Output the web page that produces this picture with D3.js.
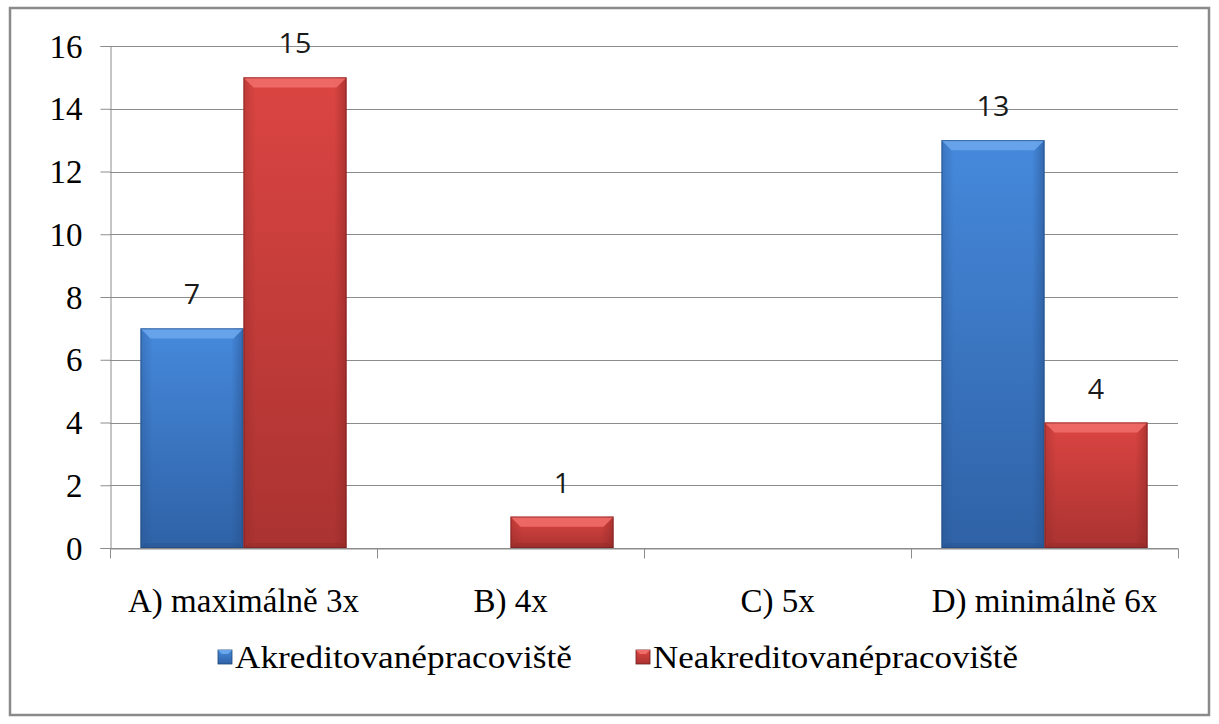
<!DOCTYPE html>
<html>
<head>
<meta charset="utf-8">
<script src="https://cdn.jsdelivr.net/npm/d3@7"></script>
<style>
  html, body { margin: 0; padding: 0; background: #fff; }
  svg { display: block; }
</style>
</head>
<body>
<svg id="chart" width="1219" height="724"></svg>
<script>
// Chart data
const categories = ["A) maximálně 3x", "B) 4x", "C) 5x", "D) minimálně 6x"];
const seriesNames = ["Akreditované pracoviště", "Neakreditované pracoviště"];
const accredited = [7, 0, 0, 13];
const nonAccredited = [15, 1, 0, 4];
const yTicks = [0, 2, 4, 6, 8, 10, 12, 14, 16];

const seriesValues = [accredited, nonAccredited];
const palette = [
  { top: "#4689dc", bottom: "#2f62a6", light: "#6aa6ec", dark: "#244f8a", edge: "#1f4676" },
  { top: "#db4542", bottom: "#aa3331", light: "#ef6d69", dark: "#8c2725", edge: "#6e1d1c" }
];
const SERIF = "Liberation Serif";
const SANS = "Open Sans";

// Widen glyphs horizontally by a factor, keeping the text anchor in place
function widen(sel, factor) {
  sel.each(function () {
    const len = this.getComputedTextLength();
    d3.select(this).attr("textLength", len * factor).attr("lengthAdjust", "spacingAndGlyphs");
  });
}

const svg = d3.select("#chart");
const W = 1219, H = 724;

// Outer frame
svg.append("rect")
  .attr("x", 10).attr("y", 8).attr("width", W - 20).attr("height", H - 17)
  .attr("fill", "#fff").attr("stroke", "#8a8a8a").attr("stroke-width", 2.5);

const plot = { left: 110, right: 1178, top: 46, bottom: 548 };

const x = d3.scaleBand().domain(categories).range([plot.left, plot.right]).paddingInner(0).paddingOuter(0);
const y = d3.scaleLinear().domain([0, 16]).range([plot.bottom, plot.top]);
const xs = d3.scaleBand().domain([0, 1]).range([0, x.bandwidth()]).paddingInner(0).paddingOuter(0.296);

const defs = svg.append("defs");
palette.forEach((p, i) => {
  const g = defs.append("linearGradient").attr("id", "grad" + i)
    .attr("x1", 0).attr("y1", 0).attr("x2", 0).attr("y2", 1);
  g.append("stop").attr("offset", "0%").attr("stop-color", p.top);
  g.append("stop").attr("offset", "100%").attr("stop-color", p.bottom);
  const s = defs.append("linearGradient").attr("id", "side" + i)
    .attr("x1", 0).attr("y1", 0).attr("x2", 1).attr("y2", 0);
  s.append("stop").attr("offset", "0%").attr("stop-color", p.dark).attr("stop-opacity", 0.35);
  s.append("stop").attr("offset", "12%").attr("stop-color", p.dark).attr("stop-opacity", 0);
  s.append("stop").attr("offset", "88%").attr("stop-color", p.dark).attr("stop-opacity", 0);
  s.append("stop").attr("offset", "100%").attr("stop-color", p.dark).attr("stop-opacity", 0.55);
});

// Gridlines
svg.append("g").selectAll("line").data(yTicks).join("line")
  .attr("x1", plot.left).attr("x2", plot.right)
  .attr("y1", d => Math.round(y(d)) + 0.5).attr("y2", d => Math.round(y(d)) + 0.5)
  .attr("stroke", "#8c8c8c").attr("stroke-width", 1);

// Y axis
const yAxis = svg.append("g").attr("transform", `translate(${plot.left + 0.5},0)`)
  .call(d3.axisLeft(y).tickValues(yTicks).tickSize(10).tickPadding(18).tickFormat(d3.format("d")));
yAxis.attr("font-family", SERIF);
yAxis.select(".domain").attr("stroke", "#8c8c8c");
yAxis.selectAll(".tick line").attr("stroke", "#8c8c8c");
yAxis.selectAll(".tick text")
  .style("font-family", SERIF).style("font-size", "33px").attr("fill", "#000")
  .attr("dy", "0.34em");

// X axis
const xAxis = svg.append("g").attr("transform", `translate(0,${plot.bottom + 0.5})`)
  .call(d3.axisBottom(x).tickSize(0).tickPadding(63));
xAxis.attr("font-family", SERIF);
xAxis.select(".domain").attr("stroke", "#8c8c8c");
xAxis.selectAll(".tick text")
  .style("font-family", SERIF).style("font-size", "33px").attr("fill", "#000")
  .attr("dy", 0);
const bounds = categories.map(c => x(c)).concat([plot.right]);
xAxis.append("g").selectAll("line").data(bounds).join("line")
  .attr("x1", d => Math.round(d) + 0.5).attr("x2", d => Math.round(d) + 0.5)
  .attr("y1", 0).attr("y2", 10).attr("stroke", "#8c8c8c");

// Bars with bevelled look
const bars = [];
categories.forEach((c, ci) => {
  seriesValues.forEach((vals, si) => {
    bars.push({ c, si, v: vals[ci] });
  });
});

const barG = svg.append("g");
bars.filter(b => b.v > 0).forEach(b => {
  const p = palette[b.si];
  const x0 = x(b.c) + xs(b.si);
  const w = xs.bandwidth();
  const y0 = y(b.v);
  const h = y(0) - y0;
  const g = barG.append("g");
  g.append("rect").attr("x", x0).attr("y", y0).attr("width", w).attr("height", h)
    .attr("fill", `url(#grad${b.si})`);
  g.append("rect").attr("x", x0).attr("y", y0).attr("width", w).attr("height", h)
    .attr("fill", `url(#side${b.si})`);
  const bev = Math.min(10, h / 2);
  // top bevel
  g.append("polygon")
    .attr("points", [[x0, y0], [x0 + w, y0], [x0 + w - bev, y0 + bev], [x0 + bev, y0 + bev]].join(" "))
    .attr("fill", p.light).attr("opacity", 0.9);
  // bottom bevel
  g.append("polygon")
    .attr("points", [[x0, y0 + h], [x0 + w, y0 + h], [x0 + w - 5, y0 + h - 5], [x0 + 5, y0 + h - 5]].join(" "))
    .attr("fill", p.dark).attr("opacity", 0.35);
  g.append("rect").attr("x", x0 + 0.5).attr("y", y0 + 0.5).attr("width", w - 1).attr("height", h - 1)
    .attr("fill", "none").attr("stroke", p.edge).attr("stroke-opacity", 0.6).attr("stroke-width", 1);
});

// Value labels
svg.append("g").selectAll("text").data(bars.filter(b => b.v > 0)).join("text")
  .attr("x", b => x(b.c) + xs(b.si) + xs.bandwidth() / 2)
  .attr("y", b => y(b.v) - 24)
  .attr("text-anchor", "middle")
  .style("font-family", SANS).style("font-size", "27px").attr("fill", "#1a1a1a")
  .text(b => b.v)
  .call(widen, 1.06);

// Legend
const legend = svg.append("g");
const legendItems = [
  { name: seriesNames[0], si: 0, x: 218, width: 337 },
  { name: seriesNames[1], si: 1, x: 636, width: 365 }
];
legendItems.forEach(it => {
  const p = palette[it.si];
  const g = legend.append("g").attr("transform", `translate(${it.x},650)`);
  g.append("rect").attr("width", 14).attr("height", 14).attr("fill", `url(#grad${it.si})`)
    .attr("stroke", p.edge).attr("stroke-width", 0.8);
  g.append("polygon").attr("points", "0,0 14,0 10,4 4,4").attr("fill", p.light);
  g.append("text").attr("x", 17).attr("y", 18)
    .style("font-family", SERIF).style("font-size", "32px").style("word-spacing", "-8px")
    .attr("fill", "#000")
    .attr("textLength", it.width).attr("lengthAdjust", "spacingAndGlyphs")
    .text(it.name);
});
</script>
</body>
</html>
